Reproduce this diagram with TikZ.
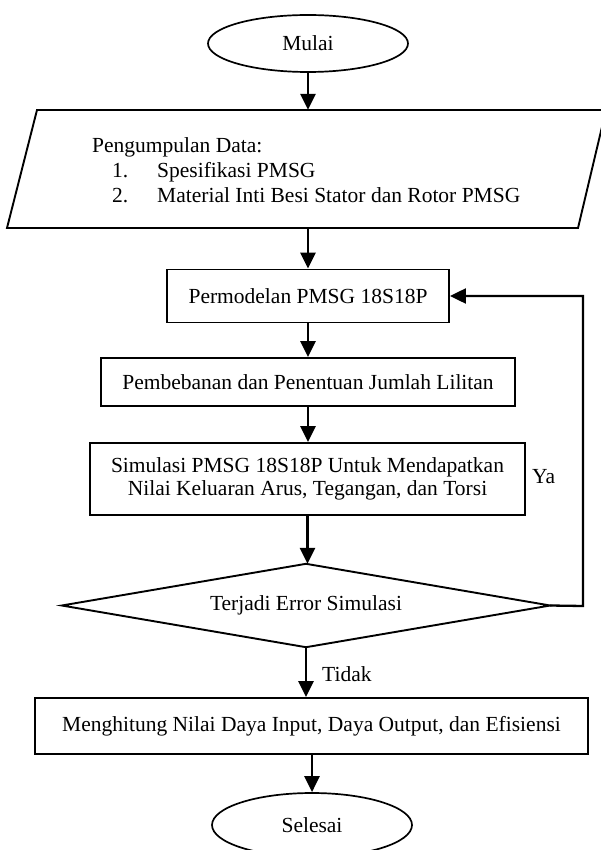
\documentclass[tikz,border=0pt]{standalone}
\usepackage{fontspec}
\setmainfont{Liberation Serif}
\usetikzlibrary{shapes.geometric,arrows.meta,calc}
\begin{document}
\begin{tikzpicture}[x=1pt,y=-1pt,
  font=\fontsize{21.5}{23.5}\selectfont,
  box/.style={draw,line width=1.9pt,inner sep=0pt,align=center},
  term/.style={draw,ellipse,line width=1.7pt,inner sep=0pt},
  arr/.style={line width=2.7pt,-{Triangle[length=16pt,width=15pt]}},
  lbl/.style={inner sep=0pt}]
\useasboundingbox (0,0) rectangle (601,850);
% terminals
\node[term,minimum width=200pt,minimum height=57pt] (mulai) at (308,43.5) {Mulai};
% data (parallelogram)
\node[inner sep=0pt,minimum width=540pt,minimum height=118pt] (data) at (306,169) {};
\draw[line width=1.9pt] (37,110) -- (606,110) -- (578,228) -- (7,228) -- cycle;
\node[lbl,anchor=base west] (d0) at (92,153) {Pengumpulan Data:};
\node[lbl,anchor=base west] (d1n) at (112,178) {1.};
\node[lbl,anchor=base west] (d1) at (157,178) {Spesifikasi PMSG};
\node[lbl,anchor=base west] (d2n) at (112,203) {2.};
\node[lbl,anchor=base west] (d2) at (157,203) {Material Inti Besi Stator dan Rotor PMSG};
% process boxes
\node[box,minimum width=282pt,minimum height=53pt] (model) at (308,296) {Permodelan PMSG 18S18P};
\node[box,minimum width=414pt,minimum height=48pt] (beban) at (308,382) {Pembebanan dan Penentuan Jumlah Lilitan};
\node[box,minimum width=435pt,minimum height=72pt] (sim) at (307.5,479) {Simulasi PMSG 18S18P Untuk Mendapatkan\\Nilai Keluaran Arus, Tegangan, dan Torsi};
% decision (diamond drawn on a rectangle node)
\node[inner sep=0pt,minimum width=488pt,minimum height=83pt] (err) at (306,605.5) {Terjadi Error Simulasi};
\draw[line width=1.9pt,line join=miter] (err.west) -- (err.north) -- (err.east) -- (err.south) -- cycle;
\node[box,minimum width=553pt,minimum height=56pt] (hitung) at (311.5,726) {Menghitung Nilai Daya Input, Daya Output, dan Efisiensi};
\node[term,minimum width=200pt,minimum height=64pt] (selesai) at (312,825) {Selesai};
% labels
\node[lbl,anchor=west] (ya) at (532,477) {Ya};
\node[lbl,anchor=west] (tidak) at (322,674) {Tidak};
% connectors
\coordinate (fb) at (583,606);
\draw[arr] (mulai.south) -- (mulai.south |- data.north);
\draw[arr] (model.north |- data.south) -- (model.north);
\draw[arr] (model) -- (beban);
\draw[arr] (beban.south) -- (beban.south |- sim.north);
\draw[arr] (sim.south) -- (sim.south |- err.north);
\draw[arr] (err.south) -- (err.south |- hitung.north);
\draw[arr] (selesai.north |- hitung.south) -- (selesai.north);
\draw[arr,line width=2.3pt] (err.east) -- (fb) |- (model.east);
\end{tikzpicture}
\end{document}
